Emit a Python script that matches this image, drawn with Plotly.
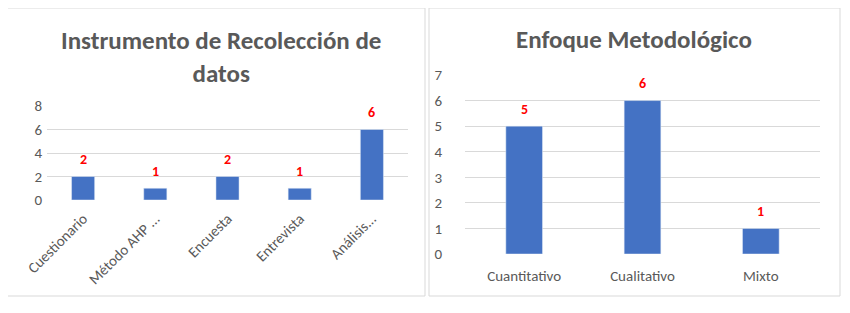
import plotly.graph_objects as go

# Data
instr_categories = ["Cuestionario", "Método AHP ...", "Encuesta", "Entrevista", "Análisis..."]
instr_values = [2, 1, 2, 1, 6]
enfoque_categories = ["Cuantitativo", "Cualitativo", "Mixto"]
enfoque_values = [5, 6, 1]
left_title = "Instrumento de Recolección de<br>datos"
right_title = "Enfoque Metodológico"

# page has an 8px body margin, so the figure is offset by 8px
OFF = 8
W, H = 834, 297
BAR = "#4472C4"
GRAY = "#595959"
FONT = "Calibri, Lato, Open Sans, sans-serif"

def px(x):
    return (x - OFF) / W

def py(y):
    return 1 - (y - OFF) / H

fig = go.Figure()
fig.add_trace(go.Bar(
    x=instr_categories, y=instr_values, marker_color=BAR, width=0.32,
    xaxis="x", yaxis="y", showlegend=False))
fig.add_trace(go.Bar(
    x=enfoque_categories, y=enfoque_values, marker_color=BAR, width=0.31,
    xaxis="x2", yaxis="y2", showlegend=False))

label_font = dict(color="#FF0000", size=14, family=FONT, weight="bold")
for cats, vals, xr, yr in [(instr_categories, instr_values, "x", "y"),
                           (enfoque_categories, enfoque_values, "x2", "y2")]:
    for c, v in zip(cats, vals):
        fig.add_annotation(x=c, y=v, xref=xr, yref=yr, text=str(v), showarrow=False,
                           yshift=17, xanchor="center", yanchor="middle", font=label_font)

axis_common = dict(showline=False, zeroline=False, ticks="", automargin=False,
                   tickfont=dict(color=GRAY, size=15, family=FONT))
fig.update_layout(
    width=W, height=H, margin=dict(l=0, r=0, t=0, b=0, autoexpand=False),
    paper_bgcolor="white", plot_bgcolor="white",
    xaxis=dict(domain=[px(47), px(408)], anchor="y", tickangle=-45, showgrid=False,
               ticklabelstandoff=6, **axis_common),
    yaxis=dict(domain=[py(200), py(106)], anchor="x", range=[0, 8], dtick=2,
               showgrid=True, gridcolor="#D9D9D9", ticklabelstandoff=4, **axis_common),
    xaxis2=dict(domain=[px(465), px(820)], anchor="y2", showgrid=False,
                ticklabelstandoff=11, **axis_common),
    yaxis2=dict(domain=[py(254), py(75)], anchor="x2", range=[0, 7], dtick=1,
                showgrid=True, gridcolor="#D9D9D9", ticklabelstandoff=22, **axis_common),
)
fig.add_shape(type="rect", xref="paper", yref="paper", x0=px(7), x1=px(425), y0=py(296), y1=py(8),
              line=dict(color="#D9D9D9", width=1))
fig.add_shape(type="rect", xref="paper", yref="paper", x0=px(429), x1=px(840), y0=py(296), y1=py(8),
              line=dict(color="#D9D9D9", width=1))
fig.add_annotation(text=left_title, xref="paper", yref="paper", x=px(221), y=py(57),
                   showarrow=False, xanchor="center", yanchor="middle",
                   font=dict(size=25, color=GRAY, family=FONT, weight="bold"))
fig.add_annotation(text=right_title, xref="paper", yref="paper", x=px(634), y=py(40),
                   showarrow=False, xanchor="center", yanchor="middle",
                   font=dict(size=25, color=GRAY, family=FONT, weight="bold"))

fig.write_html("out.html")
